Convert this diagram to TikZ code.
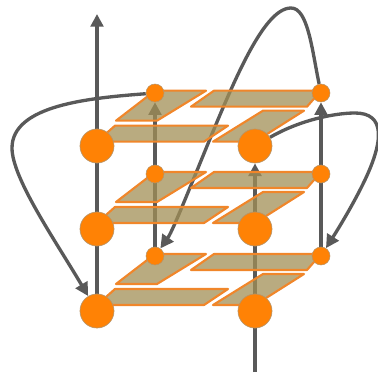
\documentclass[tikz,border=0pt]{standalone}
\usetikzlibrary{arrows.meta}
\pgfdeclarelayer{lines}
\pgfdeclarelayer{tiles}
\pgfsetlayers{lines,tiles,main}
\definecolor{wire}{HTML}{595959}
\definecolor{dot}{HTML}{FF8205}
\definecolor{dotedge}{HTML}{B89468}
\definecolor{tilefill}{HTML}{A28F56}
\definecolor{tileedge}{HTML}{F0862A}
\tikzset{
  x=0.75pt,y=-0.75pt,
  bigdot/.style={circle,fill=dot,draw=dotedge,line width=.5pt,minimum size=25.5pt,inner sep=0pt},
  smalldot/.style={circle,fill=dot,draw=dotedge,line width=.4pt,minimum size=13.5pt,inner sep=0pt},
  wireline/.style={draw=wire,line width=2.8pt,-{Triangle[length=9.5pt,width=9.5pt]}},
  thinwire/.style={draw=wire,line width=2.5pt,-{Triangle[length=9.5pt,width=9.5pt]}},
  curveline/.style={draw=wire,line width=2.5pt,-{Triangle[length=10pt,width=10pt]}},
  tile/.style={fill=tilefill,fill opacity=.75,draw=tileedge,line width=1.6pt,line join=round},
}
\newcommand{\tilelevel}[1]{%
  \begin{scope}[yshift=#1]
    \path[tile] (97,305) -- (115,289) -- (228,289) -- (204,305) -- cycle;
    \path[tile] (213,305) -- (263,274) -- (304,274) -- (255,305) -- cycle;
    \path[tile] (191,270) -- (214,254) -- (321,254) -- (307,270) -- cycle;
    \path[tile] (116,284) -- (155,254) -- (206,254) -- (157,284) -- cycle;
  \end{scope}}
\begin{document}
\begin{tikzpicture}
\useasboundingbox (0,0) rectangle (378,372);
\clip (0,0) rectangle (378,372);
\node[bigdot] (fl1) at (97,146) {};
\node[bigdot] (fl2) at (97,229) {};
\node[bigdot] (fl3) at (97,311) {};
\node[bigdot] (fr1) at (255,146) {};
\node[bigdot] (fr2) at (255,229) {};
\node[bigdot] (fr3) at (255,311) {};
\node[smalldot] (bl1) at (155,93) {};
\node[smalldot] (bl2) at (155,174) {};
\node[smalldot] (bl3) at (155,256) {};
\node[smalldot] (br1) at (321,93) {};
\node[smalldot] (br2) at (321,174) {};
\node[smalldot] (br3) at (321,256) {};
\coordinate (topend) at (97,14);
\coordinate (botstart) at (255,372);
\begin{pgfonlayer}{tiles}
  \tilelevel{0pt}
  \tilelevel{61.5pt}
  \tilelevel{122.5pt}
\end{pgfonlayer}
\begin{pgfonlayer}{lines}
  \draw[wireline] (fl3.center) -- (topend);
  \draw[thinwire] (botstart) -- (fr1);
  \draw[wireline] (bl3.center) -- (bl1);
  \draw[wireline] (br3.center) -- (br1);
  \draw[curveline] (bl1) .. controls (90,98) and (12,105) .. (12,148)
     .. controls (12,178) and (55,240) .. (fl3);
  \draw[curveline] (br1) .. controls (312,50) and (308,8) .. (291,8)
     .. controls (262,8) and (230,90) .. (196,173)
     .. controls (184,202) and (172,232) .. (bl3);
  \draw[curveline] (fr1) .. controls (300,120) and (335,113) .. (355,113)
     .. controls (385,113) and (385,140) .. (362,186)
     .. controls (352,206) and (340,226) .. (br3);
\end{pgfonlayer}
\end{tikzpicture}
\end{document}
